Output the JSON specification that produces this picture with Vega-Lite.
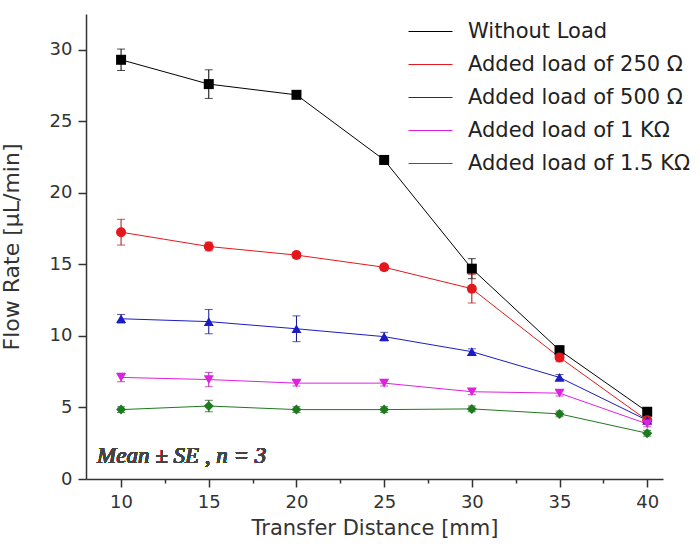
{
  "$schema": "https://vega.github.io/schema/vega-lite/v6.json",
  "width": 577,
  "height": 465,
  "autosize": {"type": "none"},
  "padding": {"left": 86, "top": 14, "right": 37, "bottom": 65},
  "background": "white",
  "config": {
    "view": {"stroke": null},
    "font": "DejaVu Sans",
    "axis": {
      "grid": false,
      "domainColor": "#333333",
      "domainWidth": 1.5,
      "tickColor": "#333333",
      "tickWidth": 1.5,
      "labelColor": "#333333",
      "labelFont": "DejaVu Sans",
      "labelFontSize": 18,
      "titleColor": "#333333",
      "titleFont": "DejaVu Sans",
      "titleFontSize": 21,
      "titleFontWeight": "normal",
      "labelPadding": 6
    },
    "legend": {
      "orient": "none", "title": null,
      "labelFontSize": 21, "labelFont": "DejaVu Sans", "labelColor": "#222222", "rowPadding": 0, "labelLimit": 400
    }
  },
  "data": {
    "values": [
      {"series": "Without Load", "x": 10, "mean": 29.3, "se": 0.75},
      {"series": "Without Load", "x": 15, "mean": 27.6, "se": 1.0},
      {"series": "Without Load", "x": 20, "mean": 26.85, "se": 0.2},
      {"series": "Without Load", "x": 25, "mean": 22.3, "se": 0.3},
      {"series": "Without Load", "x": 30, "mean": 14.7, "se": 0.7},
      {"series": "Without Load", "x": 35, "mean": 9.0, "se": 0.3},
      {"series": "Without Load", "x": 40, "mean": 4.7, "se": 0.2},
      {"series": "Added load of 250 Ω", "x": 10, "mean": 17.25, "se": 0.9},
      {"series": "Added load of 250 Ω", "x": 15, "mean": 16.25, "se": 0.3},
      {"series": "Added load of 250 Ω", "x": 20, "mean": 15.65, "se": 0.2},
      {"series": "Added load of 250 Ω", "x": 25, "mean": 14.8, "se": 0.2},
      {"series": "Added load of 250 Ω", "x": 30, "mean": 13.3, "se": 1.0},
      {"series": "Added load of 250 Ω", "x": 35, "mean": 8.5, "se": 0.3},
      {"series": "Added load of 250 Ω", "x": 40, "mean": 4.1, "se": 0.2},
      {"series": "Added load of 500 Ω", "x": 10, "mean": 11.2, "se": 0.3},
      {"series": "Added load of 500 Ω", "x": 15, "mean": 11.0, "se": 0.85},
      {"series": "Added load of 500 Ω", "x": 20, "mean": 10.5, "se": 0.9},
      {"series": "Added load of 500 Ω", "x": 25, "mean": 9.95, "se": 0.3},
      {"series": "Added load of 500 Ω", "x": 30, "mean": 8.9, "se": 0.2},
      {"series": "Added load of 500 Ω", "x": 35, "mean": 7.1, "se": 0.2},
      {"series": "Added load of 500 Ω", "x": 40, "mean": 4.1, "se": 0.2},
      {"series": "Added load of 1 KΩ", "x": 10, "mean": 7.1, "se": 0.3},
      {"series": "Added load of 1 KΩ", "x": 15, "mean": 6.95, "se": 0.5},
      {"series": "Added load of 1 KΩ", "x": 20, "mean": 6.7, "se": 0.2},
      {"series": "Added load of 1 KΩ", "x": 25, "mean": 6.7, "se": 0.2},
      {"series": "Added load of 1 KΩ", "x": 30, "mean": 6.1, "se": 0.2},
      {"series": "Added load of 1 KΩ", "x": 35, "mean": 6.0, "se": 0.2},
      {"series": "Added load of 1 KΩ", "x": 40, "mean": 3.85, "se": 0.2},
      {"series": "Added load of 1.5 KΩ", "x": 10, "mean": 4.85, "se": 0.2},
      {"series": "Added load of 1.5 KΩ", "x": 15, "mean": 5.1, "se": 0.4},
      {"series": "Added load of 1.5 KΩ", "x": 20, "mean": 4.85, "se": 0.2},
      {"series": "Added load of 1.5 KΩ", "x": 25, "mean": 4.85, "se": 0.2},
      {"series": "Added load of 1.5 KΩ", "x": 30, "mean": 4.9, "se": 0.2},
      {"series": "Added load of 1.5 KΩ", "x": 35, "mean": 4.55, "se": 0.2},
      {"series": "Added load of 1.5 KΩ", "x": 40, "mean": 3.2, "se": 0.2}
    ]
  },
  "layer": [
    {
      "mark": {"type": "line", "strokeWidth": 1},
      "encoding": {
        "x": {"field": "x", "type": "quantitative", "scale": {"domain": [8, 40.9], "nice": false, "zero": false},
          "axis": {"title": "Transfer Distance [mm]", "values": [10, 12.5, 15, 17.5, 20, 22.5, 25, 27.5, 30, 32.5, 35, 37.5, 40],
            "labelExpr": "datum.value % 5 === 0 ? datum.label : ''",
            "tickSize": {"condition": {"test": "datum.value % 5 !== 0", "value": 4}, "value": 8},
            "titlePadding": 6}},
        "y": {"field": "mean", "type": "quantitative", "scale": {"domain": [0, 32.5], "nice": false},
          "axis": {"title": "Flow Rate [µL/min]", "values": [0, 2.5, 5, 7.5, 10, 12.5, 15, 17.5, 20, 22.5, 25, 27.5, 30, 32.5],
            "labelExpr": "datum.value % 5 === 0 ? datum.label : ''",
            "tickSize": {"condition": {"test": "datum.value % 5 !== 0", "value": 4}, "value": 8},
            "titlePadding": 26, "titleFontSize": 22}},
        "stroke": {"field": "series", "type": "nominal", "sort": null,
          "scale": {"range": ["#000000", "#e4181c", "#1c1cc4", "#e020e0", "#1e7a1e"]},
          "legend": {"legendX": 322, "legendY": -5, "symbolType": "stroke", "symbolSize": 1936, "symbolStrokeWidth": 1, "labelOffset": 15, "rowPadding": 0}}
      }
    },
    {
      "mark": {"type": "errorbar", "ticks": {"size": 8}, "thickness": 1},
      "encoding": {
        "x": {"field": "x", "type": "quantitative"},
        "y": {"field": "mean", "type": "quantitative", "title": "Flow Rate [µL/min]"},
        "yError": {"field": "se"},
        "color": {"field": "series", "type": "nominal", "legend": null,
          "scale": {"domain": ["Without Load", "Added load of 250 Ω", "Added load of 500 Ω", "Added load of 1 KΩ", "Added load of 1.5 KΩ"],
            "range": ["#000000", "#b01010", "#101090", "#b010b0", "#105010"]}}
      }
    },
    {
      "mark": {"type": "point", "filled": true, "opacity": 1, "size": 100},
      "encoding": {
        "x": {"field": "x", "type": "quantitative"},
        "y": {"field": "mean", "type": "quantitative", "title": "Flow Rate [µL/min]"},
        "fill": {"field": "series", "type": "nominal",
          "scale": {"domain": ["Without Load", "Added load of 250 Ω", "Added load of 500 Ω", "Added load of 1 KΩ", "Added load of 1.5 KΩ"],
            "range": ["#000000", "#e4181c", "#1c1cc4", "#e020e0", "#1e7a1e"]},
          "legend": {"legendX": 340, "legendY": 7, "symbolSize": 100, "labelOpacity": 0, "symbolOpacity": 1}},
        "shape": {"field": "series", "type": "nominal",
          "scale": {"domain": ["Without Load", "Added load of 250 Ω", "Added load of 500 Ω", "Added load of 1 KΩ", "Added load of 1.5 KΩ"],
            "range": ["square", "circle", "triangle-up", "triangle-down", "diamond"]},
          "legend": {"legendX": 340, "legendY": 7, "symbolSize": 100, "labelOpacity": 0, "symbolOpacity": 1}}
      }
    },
    {
      "mark": {"type": "text", "align": "left", "baseline": "alphabetic", "font": "Liberation Serif", "fontStyle": "italic", "fontSize": 23, "color": "#444444"},
      "encoding": {
        "x": {"datum": 8.63},
        "y": {"datum": 1.12},
        "text": {"value": "Mean ± SE , n = 3"}
      }
    }
  ]
}
